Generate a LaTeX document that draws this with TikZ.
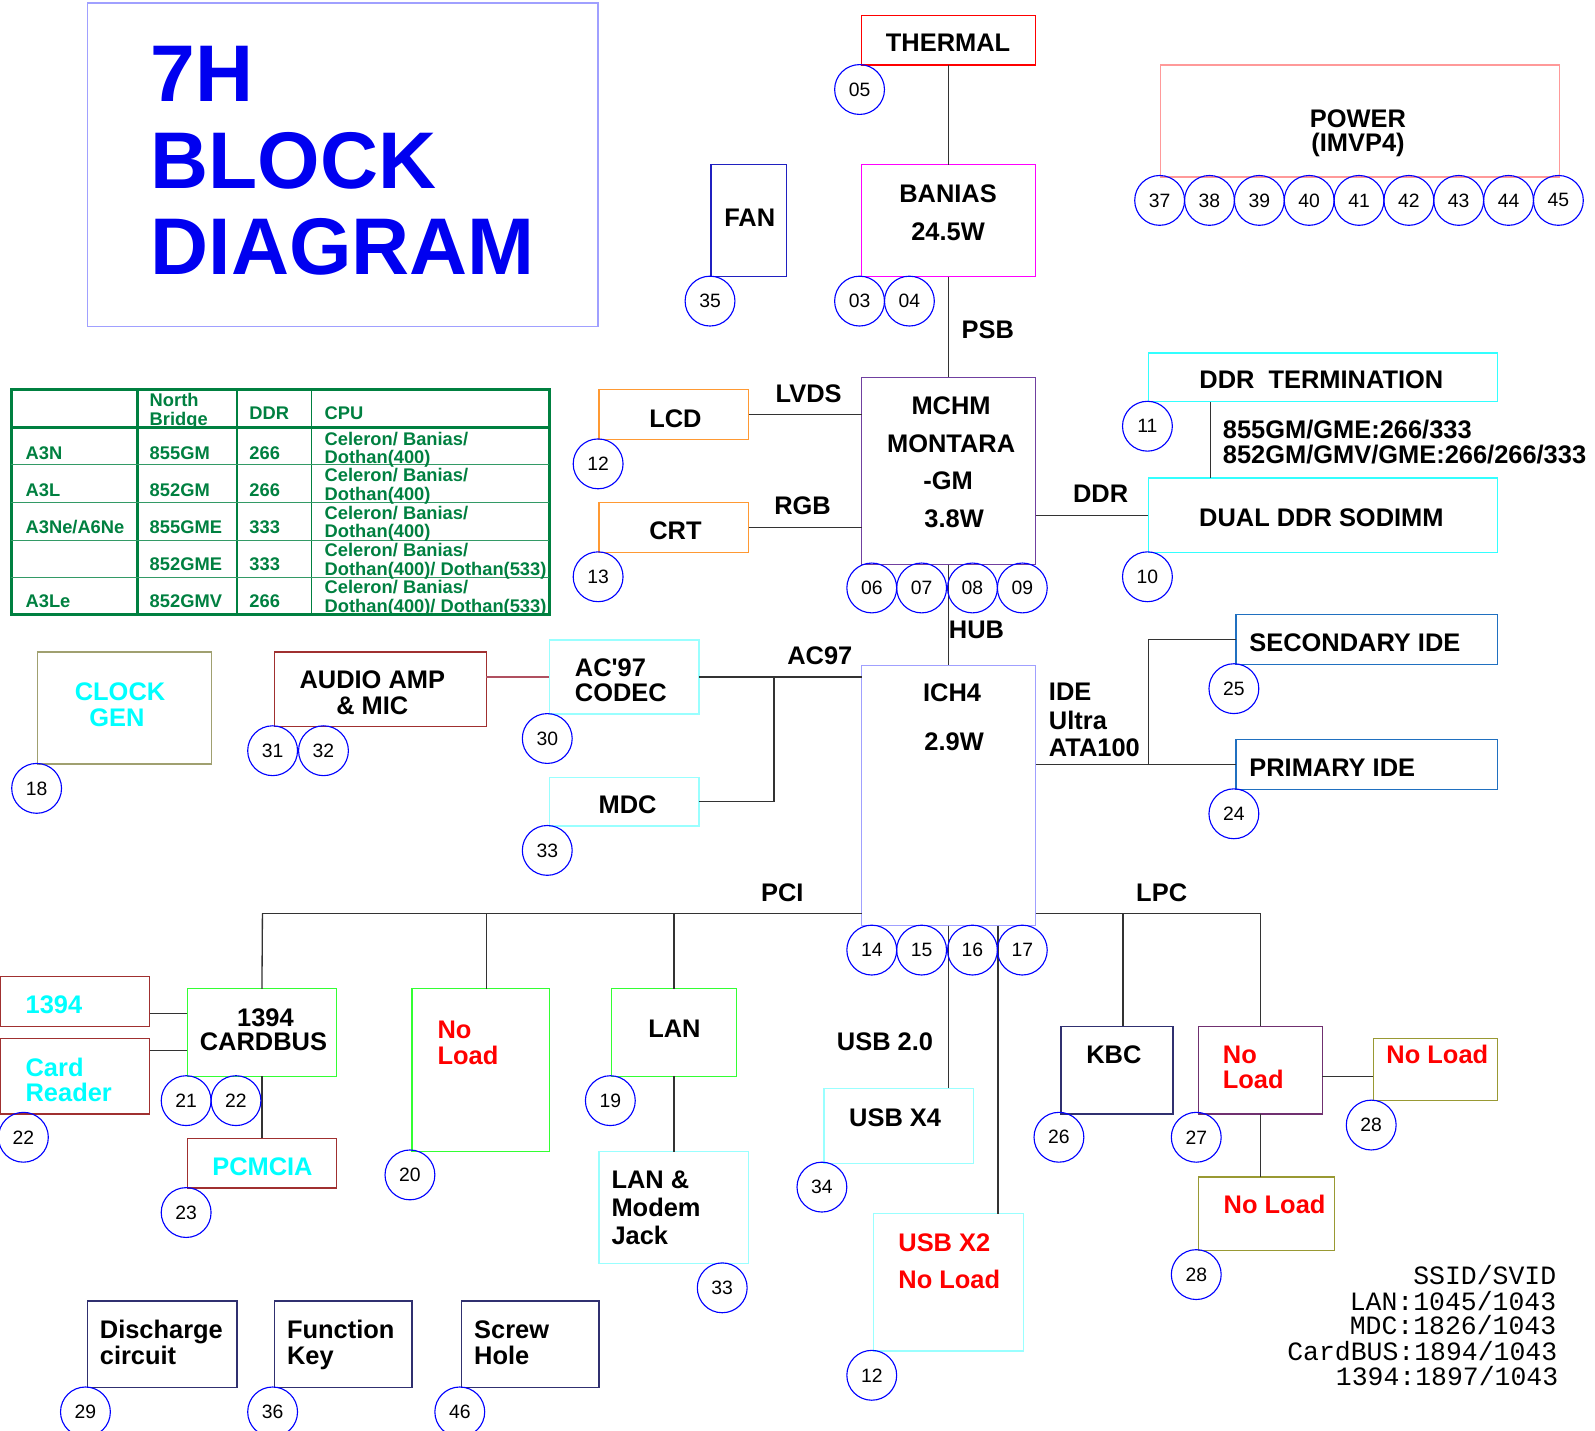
\documentclass[tikz,border=0pt]{standalone}
\usepackage{fontspec}
\setmainfont{Liberation Sans}
\newfontfamily\ssidfont{Liberation Mono}
\definecolor{cblue}{HTML}{0000FF}
\definecolor{tblue}{HTML}{0000F0}
\definecolor{tgreen}{HTML}{008040}
\definecolor{wirec}{HTML}{333333}
\definecolor{lav}{HTML}{A0A0FF}
\definecolor{magc}{HTML}{FF00FF}
\definecolor{fanc}{HTML}{2020C0}
\definecolor{pwrc}{HTML}{FF9999}
\definecolor{mchc}{HTML}{7040A0}
\definecolor{orc}{HTML}{FF9933}
\definecolor{cyb}{HTML}{33FFFF}
\definecolor{lcy}{HTML}{99FFFF}
\definecolor{dred}{HTML}{A03030}
\definecolor{rose}{HTML}{B05060}
\definecolor{olv}{HTML}{A0A070}
\definecolor{grn}{HTML}{33FF33}
\definecolor{navy}{HTML}{303070}
\definecolor{plum}{HTML}{703070}
\definecolor{olv2}{HTML}{999933}
\definecolor{idec}{HTML}{2070C0}
\definecolor{cytext}{HTML}{00FFFF}
\newcommand{\blk}[6]{\node[bx=#2, minimum width={#5-#3}, minimum height={#6-#4}] (#1) at (#3,#4) {};}
\newcommand{\cnum}[4]{\node[pg] (#1) at (#2,#3) {#4};}
\newcommand{\tcx}[5][]{\node[lb,#1] (#2) at (#3,#4) {#5};}
\newcommand{\tlx}[5][]{\node[lb,anchor=base west,#1] (#2) at (#3,#4) {#5};}
\begin{document}
\begin{tikzpicture}[x=1pt,y=-1pt,
  bx/.style={draw=#1, line width=1.3pt, inner sep=0pt, outer sep=0pt, anchor=north west},
  pg/.style={circle, draw=cblue, line width=1.1pt, minimum size=49pt, inner sep=0pt, font=\fontsize{19}{19}\selectfont},
  lb/.style={font=\bfseries\fontsize{25}{25}\selectfont, inner sep=0pt, anchor=base},
  tb/.style={font=\bfseries\fontsize{18}{18}\selectfont, text=tgreen, inner sep=0pt, anchor=base west},
  wire/.style={draw=wirec, line width=1.3pt},
  mono/.style={font=\ssidfont\fontsize{26}{26}\selectfont, inner sep=0pt, anchor=base east},
  ttl/.style={font=\bfseries\fontsize{79}{79}\selectfont, text=tblue, inner sep=0pt, anchor=base west}]
\useasboundingbox (0,0) rectangle (1568,1406);

% ---------- title ----------
\blk{title}{lav}{86}{3}{588}{321}
\node[ttl] (t7h) at (148,100) {7H};
\node[ttl] (tblock) at (148,185) {BLOCK};
\node[ttl] (tdiag) at (148,270) {DIAGRAM};

% ---------- boxes ----------
\blk{thermal}{red}{847}{15}{1018}{64}
\blk{banias}{magc}{847}{162}{1018}{272}
\blk{fan}{fanc}{699}{162}{773}{272}
\blk{power}{pwrc}{1141}{64}{1533}{174}
\blk{mchm}{mchc}{847}{371}{1018}{555}
\blk{lcd}{orc}{589}{383}{736}{432}
\blk{crt}{orc}{589}{494}{736}{543}
\blk{ddrterm}{cyb}{1129}{347}{1472}{395}
\blk{sodimm}{cyb}{1129}{470}{1472}{543}
\blk{ich4}{lav}{847}{654}{1018}{910}
\blk{ac97}{lcy}{540}{629}{687}{702}
\blk{mdc}{lcy}{540}{764}{687}{812}
\blk{audio}{dred}{270}{641}{478}{714}
\blk{clock}{olv}{37}{641}{208}{751}
\blk{cardbus}{grn}{184}{972}{331}{1058}
\blk{f1394}{dred}{0}{960}{147}{1009}
\blk{cardrd}{dred}{0}{1021}{147}{1095}
\blk{pcmcia}{dred}{184}{1119}{331}{1168}
\blk{noload20}{grn}{405}{972}{540}{1132}
\blk{lan}{grn}{601}{972}{724}{1058}
\blk{lanmodem}{lcy}{589}{1132}{736}{1242}
\blk{usbx4}{lcy}{810}{1070}{957}{1144}
\blk{usbx2}{lcy}{859}{1193}{1006}{1328}
\blk{kbc}{navy}{1043}{1009}{1153}{1095}
\blk{noload27}{plum}{1178}{1009}{1300}{1095}
\blk{noload28a}{olv2}{1350}{1021}{1472}{1082}
\blk{noload28b}{olv2}{1178}{1157}{1312}{1229}
\blk{secide}{idec}{1215}{604}{1472}{653}
\blk{primide}{idec}{1215}{727}{1472}{776}
\blk{discharge}{navy}{86}{1279}{233}{1364}
\blk{fkey}{navy}{270}{1279}{405}{1364}
\blk{screw}{navy}{454}{1279}{589}{1364}

% ---------- box texts ----------
\tcx{tthermal}{932}{51}{THERMAL}
\tcx{tbanias1}{932}{199}{BANIAS}
\tcx{tbanias2}{932}{236}{24.5W}
\tcx{tfan}{737}{223}{FAN}
\tcx{tpower1}{1335}{125}{POWER}
\tcx{tpower2}{1335}{149}{(IMVP4)}
\tcx{tmchm1}{935}{407}{MCHM}
\tcx{tmchm2}{935}{445}{MONTARA}
\tcx{tmchm3}{932}{481}{-GM}
\tcx{tmchm4}{938}{519}{3.8W}
\tcx{tlcd}{664}{420}{LCD}
\tcx{tcrt}{664}{530}{CRT}
\tcx{tddrterm}{1299}{382}{DDR\ \ TERMINATION}
\tcx{tsodimm}{1299}{518}{DUAL DDR SODIMM}
\tlx{tddrv1}{1202}{431}{855GM/GME:266/333}
\tlx{tddrv2}{1202}{456}{852GM/GMV/GME:266/266/333}
\tcx{tich1}{936}{690}{ICH4}
\tcx{tich2}{938}{738}{2.9W}
\tlx{tac1}{565}{665}{AC\textquotesingle 97}
\tlx{tac2}{565}{690}{CODEC}
\tcx{tmdc}{617}{800}{MDC}
\tcx{taud1}{366}{677}{AUDIO AMP}
\tcx{taud2}{366}{702}{\& MIC}
\tcx[text=cytext]{tclk1}{118}{689}{CLOCK}
\tcx[text=cytext]{tclk2}{115}{714}{GEN}
\tcx{tcb1}{261}{1009}{1394}
\tcx{tcb2}{259}{1033}{CARDBUS}
\tlx[text=cytext]{t1394}{25}{996}{1394}
\tlx[text=cytext]{tcr1}{25}{1058}{Card}
\tlx[text=cytext]{tcr2}{25}{1083}{Reader}
\tcx[text=cytext]{tpcm}{258}{1156}{PCMCIA}
\tlx[text=red]{tnl20a}{430}{1021}{No}
\tlx[text=red]{tnl20b}{430}{1046}{Load}
\tcx{tlan}{663}{1020}{LAN}
\tlx{tlm1}{601}{1168}{LAN \&}
\tlx{tlm2}{601}{1196}{Modem}
\tlx{tlm3}{601}{1223}{Jack}
\tcx{tusbx4}{880}{1107}{USB X4}
\tlx[text=red]{tusbx2a}{883}{1230}{USB X2}
\tlx[text=red]{tusbx2b}{883}{1267}{No Load}
\tcx{tkbc}{1095}{1045}{KBC}
\tlx[text=red]{tnl27a}{1202}{1045}{No}
\tlx[text=red]{tnl27b}{1202}{1070}{Load}
\tcx[text=red]{tnl28a}{1413}{1045}{No Load}
\tcx[text=red]{tnl28b}{1253}{1193}{No Load}
\tlx{tsec}{1228}{640}{SECONDARY IDE}
\tlx{tpri}{1228}{763}{PRIMARY IDE}
\tlx{tdis1}{98}{1316}{Discharge}
\tlx{tdis2}{98}{1341}{circuit}
\tlx{tfk1}{282}{1316}{Function}
\tlx{tfk2}{282}{1341}{Key}
\tlx{tsc1}{466}{1316}{Screw}
\tlx{tsc2}{466}{1341}{Hole}

% ---------- bus labels ----------
\tcx{lpsb}{971}{333}{PSB}
\tcx{llvds}{795}{396}{LVDS}
\tcx{lrgb}{789}{506}{RGB}
\tcx{lddr}{1082}{494}{DDR}
\tcx{lhub}{960}{628}{HUB}
\tcx{lac97}{806}{653}{AC97}
\tcx{lpci}{769}{886}{PCI}
\tcx{llpc}{1142}{886}{LPC}
\tcx{lusb}{870}{1033}{USB 2.0}
\tlx{lide1}{1031}{689}{IDE}
\tlx{lide2}{1031}{717}{Ultra}
\tlx{lide3}{1031}{744}{ATA100}

% ---------- table ----------
\draw[tgreen, line width=3pt] (11,383) rectangle (540,604);
\draw[tgreen, line width=3pt] (11,420) -- (540,420);
\draw[tgreen, line width=3pt] (135,383) -- (135,604);
\draw[tgreen, line width=1.2pt] (233,383) -- (233,604) (306,383) -- (306,604);
\foreach \yy in {457,494,531,568} \draw[tgreen!80, line width=1.2pt] (11,\yy) -- (540,\yy);
\node[tb] (hnb1) at (147,400) {North};
\node[tb] (hnb2) at (147,418.5) {Bridge};
\node[tb] (hddr) at (245,412.5) {DDR};
\node[tb] (hcpu) at (319,412.5) {CPU};
\node[tb] (r1a) at (25,451.5) {A3N};
\node[tb] (r1b) at (147,451.5) {855GM};
\node[tb] (r1c) at (245,451.5) {266};
\node[tb] (r1d) at (319,437.5) {Celeron/ Banias/};
\node[tb] (r1e) at (319,455.5) {Dothan(400)};
\node[tb] (r2a) at (25,488) {A3L};
\node[tb] (r2b) at (147,488) {852GM};
\node[tb] (r2c) at (245,488) {266};
\node[tb] (r2d) at (319,473.5) {Celeron/ Banias/};
\node[tb] (r2e) at (319,492) {Dothan(400)};
\node[tb] (r3a) at (25,524.5) {A3Ne/A6Ne};
\node[tb] (r3b) at (147,524.5) {855GME};
\node[tb] (r3c) at (245,524.5) {333};
\node[tb] (r3d) at (319,510.5) {Celeron/ Banias/};
\node[tb] (r3e) at (319,528.5) {Dothan(400)};
\node[tb] (r4b) at (147,561) {852GME};
\node[tb] (r4c) at (245,561) {333};
\node[tb] (r4d) at (319,547.5) {Celeron/ Banias/};
\node[tb] (r4e) at (319,565.5) {Dothan(400)/ Dothan(533)};
\node[tb] (r5a) at (25,597.5) {A3Le};
\node[tb] (r5b) at (147,597.5) {852GMV};
\node[tb] (r5c) at (245,597.5) {266};
\node[tb] (r5d) at (319,583.5) {Celeron/ Banias/};
\node[tb] (r5e) at (319,602) {Dothan(400)/ Dothan(533)};

% ---------- SSID ----------
\node[mono] (s1) at (1530,1263) {SSID/SVID};
\node[mono] (s2) at (1530,1288) {LAN:1045/1043};
\node[mono] (s3) at (1530,1312) {MDC:1826/1043};
\node[mono] (s4) at (1531,1337) {CardBUS:1894/1043};
\node[mono] (s5) at (1532,1362) {1394:1897/1043};

% ---------- connectors ----------
\coordinate (acj) at (761,665);
\coordinate (pcil) at (258,898);
\coordinate (pci2) at (478,898);
\coordinate (j1394) at (147,996);
\coordinate (jcr) at (147,1033);
\coordinate (u2) at (981,910);
\coordinate (lpcr) at (1239,898);
\coordinate (lpck) at (1104,898);
\coordinate (nl) at (1300,1058);
\coordinate (idej) at (1129,751.5);
\coordinate (ddrx) at (1190,395);
\draw[wire] (thermal.south) -- (banias.north);
\draw[wire] (banias.south) -- (mchm.north);
\draw[wire] (mchm.south) -- (ich4.north);
\draw[wire] (lcd.east) -- (lcd.east -| mchm.west);
\draw[wire] (crt.east) -- (crt.east -| mchm.west);
\draw[wire] (mchm.east |- sodimm.west) -- (sodimm.west);
\draw[wire] (ddrx) -- (ddrx |- sodimm.north);
\draw[wire] (ac97.east) -- (ac97.east -| ich4.west);
\draw[draw=rose, line width=1.3pt] (audio.east |- ac97.west) -- (ac97.west);
\draw[wire] (mdc.east) -| (acj);
\draw[wire] (pcil) -- (pcil -| ich4.west);
\draw[wire] (pcil) -- (cardbus.north);
\draw[wire] (pci2) -- (pci2 |- noload20.north);
\draw[wire] (lan.north |- pcil) -- (lan.north);
\draw[wire] (cardbus.south) -- (pcmcia.north);
\draw[wire] (j1394) -- (j1394 -| cardbus.west);
\draw[wire] (jcr) -- (jcr -| cardbus.west);
\draw[wire] (lan.south) -- (lanmodem.north);
\draw[wire] (ich4.south) -- (ich4.south |- usbx4.north);
\draw[wire] (u2) -- (u2 |- usbx2.north);
\draw[wire] (lpcr -| ich4.east) -- (lpcr) -- (noload27.north);
\draw[wire] (lpck) -- (lpck |- kbc.north);
\draw[wire] (nl) -- (nl -| noload28a.west);
\draw[wire] (noload27.south) -- (noload27.south |- noload28b.north);
\draw[wire] (ich4.east |- primide.west) -- (primide.west);
\draw[wire] (idej) |- (secide.west);

% ---------- page circles ----------
\cnum{c05}{845}{88}{05}
\cnum{c03}{845}{296}{03}
\cnum{c04}{894}{296}{04}
\cnum{c35}{698}{296}{35}
\cnum{c37}{1140}{197}{37}
\cnum{c38}{1189}{197}{38}
\cnum{c39}{1238}{197}{39}
\cnum{c40}{1287}{197}{40}
\cnum{c41}{1336}{197}{41}
\cnum{c42}{1385}{197}{42}
\cnum{c43}{1434}{197}{43}
\cnum{c44}{1483}{197}{44}
\cnum{c45}{1532}{197}{45}
\cnum{c12a}{588}{456}{12}
\cnum{c13}{588}{567}{13}
\cnum{c06}{857}{578}{06}
\cnum{c07}{906}{578}{07}
\cnum{c08}{956}{578}{08}
\cnum{c09}{1005}{578}{09}
\cnum{c11}{1128}{419}{11}
\cnum{c10}{1128}{567}{10}
\cnum{c30}{538}{726}{30}
\cnum{c33a}{538}{836}{33}
\cnum{c31}{268}{738}{31}
\cnum{c32}{318}{738}{32}
\cnum{c18}{36}{775}{18}
\cnum{c14}{857}{934}{14}
\cnum{c15}{906}{934}{15}
\cnum{c16}{956}{934}{16}
\cnum{c17}{1005}{934}{17}
\cnum{c25}{1213}{677}{25}
\cnum{c24}{1213}{800}{24}
\cnum{c21}{183}{1082}{21}
\cnum{c22a}{232}{1082}{22}
\cnum{c22b}{23}{1118}{22}
\cnum{c23}{183}{1192}{23}
\cnum{c20}{403}{1155}{20}
\cnum{c19}{600}{1082}{19}
\cnum{c33b}{710}{1266}{33}
\cnum{c34}{808}{1167}{34}
\cnum{c12b}{857}{1352}{12}
\cnum{c26}{1041}{1118}{26}
\cnum{c27}{1176}{1118}{27}
\cnum{c28a}{1348}{1106}{28}
\cnum{c28b}{1176}{1253}{28}
\cnum{c29}{84}{1388}{29}
\cnum{c36}{268}{1388}{36}
\cnum{c46}{452}{1388}{46}
\end{tikzpicture}
\end{document}
